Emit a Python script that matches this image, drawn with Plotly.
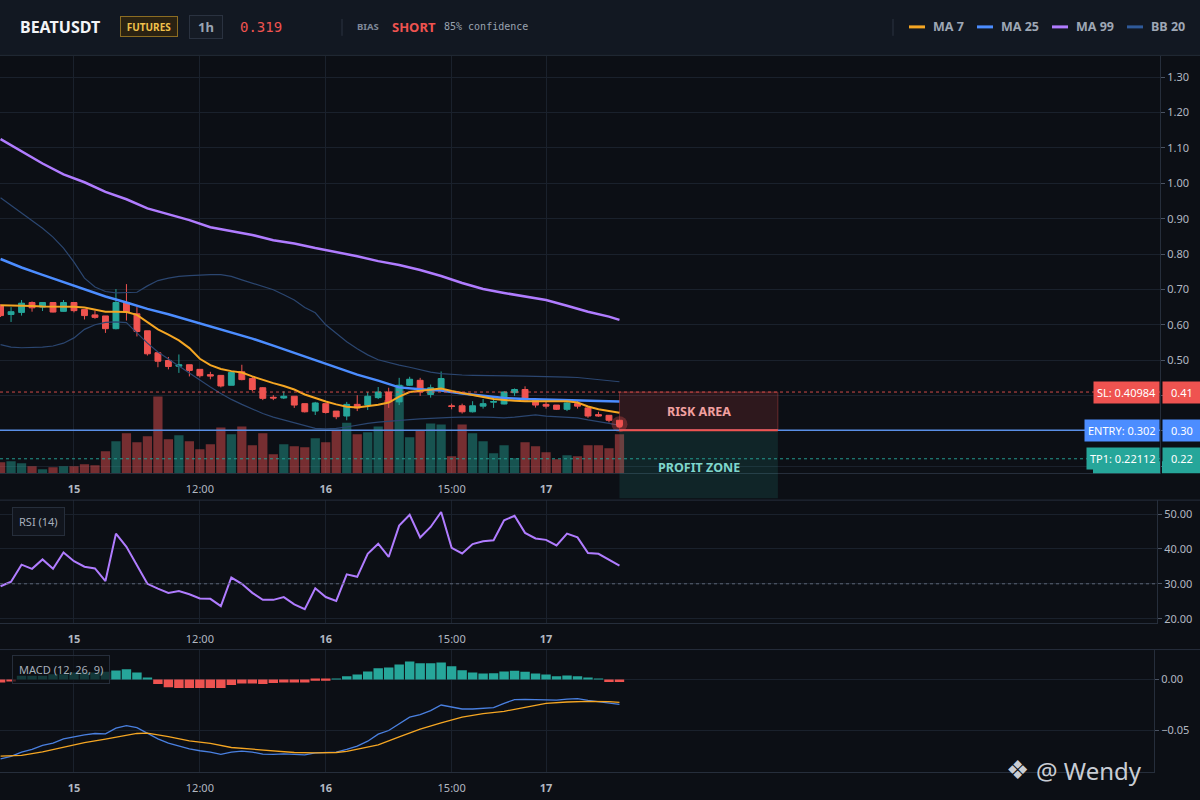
import plotly.graph_objects as go

W, H = 1200, 800

# ---- BEATUSDT 1h candles ----
opens = [0.654, 0.629, 0.635, 0.663, 0.650, 0.663, 0.638, 0.663, 0.643, 0.628,
         0.625, 0.589, 0.663, 0.631, 0.583, 0.521, 0.499, 0.483, 0.487, 0.474,
         0.459, 0.457, 0.429, 0.467, 0.448, 0.422, 0.395, 0.393, 0.398, 0.377,
         0.356, 0.377, 0.356, 0.342, 0.375, 0.373, 0.394, 0.410, 0.382, 0.429,
         0.443, 0.403, 0.420, 0.371, 0.371, 0.354, 0.370, 0.381, 0.376, 0.408,
         0.417, 0.387, 0.375, 0.373, 0.361, 0.377, 0.365, 0.346, 0.344, 0.330]
highs = [0.658, 0.650, 0.670, 0.666, 0.664, 0.664, 0.670, 0.664, 0.643, 0.640,
         0.625, 0.701, 0.715, 0.650, 0.583, 0.521, 0.509, 0.516, 0.487, 0.474,
         0.467, 0.457, 0.468, 0.487, 0.454, 0.424, 0.401, 0.412, 0.398, 0.377,
         0.382, 0.377, 0.356, 0.382, 0.401, 0.410, 0.424, 0.422, 0.450, 0.453,
         0.450, 0.431, 0.468, 0.377, 0.377, 0.384, 0.390, 0.392, 0.412, 0.420,
         0.426, 0.387, 0.384, 0.373, 0.384, 0.384, 0.368, 0.354, 0.344, 0.331]
lows = [0.622, 0.608, 0.626, 0.637, 0.639, 0.635, 0.637, 0.635, 0.615, 0.617,
        0.577, 0.587, 0.612, 0.567, 0.513, 0.480, 0.474, 0.464, 0.454, 0.451,
        0.446, 0.423, 0.429, 0.443, 0.412, 0.387, 0.387, 0.390, 0.365, 0.352,
        0.345, 0.349, 0.333, 0.330, 0.356, 0.359, 0.390, 0.365, 0.373, 0.427,
        0.399, 0.394, 0.415, 0.361, 0.349, 0.352, 0.363, 0.365, 0.375, 0.399,
        0.387, 0.366, 0.363, 0.359, 0.356, 0.363, 0.337, 0.340, 0.324, 0.316]
closes = [0.626, 0.637, 0.661, 0.648, 0.663, 0.636, 0.663, 0.640, 0.626, 0.621,
          0.589, 0.663, 0.636, 0.581, 0.518, 0.497, 0.482, 0.487, 0.471, 0.456,
          0.455, 0.427, 0.465, 0.445, 0.417, 0.392, 0.393, 0.398, 0.373, 0.354,
          0.379, 0.352, 0.340, 0.375, 0.365, 0.398, 0.410, 0.382, 0.429, 0.446,
          0.410, 0.422, 0.448, 0.369, 0.354, 0.371, 0.377, 0.383, 0.410, 0.417,
          0.387, 0.373, 0.370, 0.361, 0.379, 0.370, 0.342, 0.342, 0.330, 0.319]
volumes = [33, 36, 30, 21, 12, 18, 21, 21, 27, 24,
           66, 96, 120, 93, 111, 231, 102, 114, 96, 72,
           87, 138, 117, 141, 84, 120, 57, 87, 81, 78,
           105, 93, 130, 152, 117, 123, 141, 220, 265, 108,
           130, 150, 147, 51, 147, 120, 96, 60, 84, 45,
           93, 81, 63, 42, 54, 51, 84, 84, 75, 117]

ma7 = [0.655, 0.655, 0.654, 0.653, 0.652, 0.652, 0.652, 0.651, 0.649, 0.642,
       0.637, 0.637, 0.636, 0.628, 0.607, 0.587, 0.572, 0.556, 0.534, 0.504,
       0.486, 0.475, 0.469, 0.465, 0.454, 0.444, 0.435, 0.427, 0.417, 0.403,
       0.392, 0.383, 0.375, 0.368, 0.366, 0.369, 0.374, 0.380, 0.397, 0.410,
       0.413, 0.417, 0.420, 0.413, 0.408, 0.403, 0.396, 0.390, 0.387, 0.385,
       0.384, 0.384, 0.384, 0.384, 0.384, 0.380, 0.369, 0.361, 0.356, 0.351]
ma_x = [0, 2, 4, 6, 8, 10, 12, 14, 16, 18, 20, 22, 24, 26, 28, 30,
        32, 34, 36, 38, 40, 42, 44, 46, 48, 50, 52, 54, 56, 58, 59]
ma25 = [0.786, 0.762, 0.741, 0.721, 0.700, 0.680, 0.663, 0.645, 0.630, 0.613,
        0.597, 0.579, 0.561, 0.541, 0.521, 0.499, 0.479, 0.459, 0.442, 0.423,
        0.418, 0.414, 0.406, 0.399, 0.393, 0.390, 0.389, 0.387, 0.386, 0.384, 0.383]
ma99 = [1.125, 1.090, 1.056, 1.025, 1.003, 0.976, 0.955, 0.929, 0.913, 0.896,
        0.876, 0.865, 0.854, 0.839, 0.830, 0.817, 0.806, 0.794, 0.780, 0.769,
        0.755, 0.738, 0.718, 0.701, 0.690, 0.680, 0.670, 0.654, 0.637, 0.623, 0.614]
bb_upper = [0.959, 0.938, 0.915, 0.896, 0.873, 0.848, 0.817, 0.777, 0.732, 0.707,
            0.694, 0.690, 0.690, 0.692, 0.710, 0.725, 0.732, 0.737, 0.739, 0.741,
            0.742, 0.742, 0.737, 0.727, 0.717, 0.708, 0.699, 0.685, 0.670, 0.649,
            0.634, 0.600, 0.575, 0.552, 0.532, 0.515, 0.501, 0.493, 0.486, 0.480,
            0.473, 0.466, 0.462, 0.459, 0.458, 0.457, 0.457, 0.457, 0.456, 0.456,
            0.455, 0.454, 0.454, 0.453, 0.452, 0.451, 0.448, 0.445, 0.442, 0.439]
bb_lower = [0.544, 0.537, 0.535, 0.535, 0.537, 0.540, 0.548, 0.563, 0.587, 0.600,
            0.607, 0.608, 0.606, 0.577, 0.548, 0.523, 0.503, 0.483, 0.463, 0.445,
            0.424, 0.406, 0.389, 0.375, 0.362, 0.349, 0.339, 0.331, 0.323, 0.313,
            0.307, 0.306, 0.307, 0.311, 0.317, 0.321, 0.325, 0.328, 0.330, 0.332,
            0.334, 0.336, 0.337, 0.338, 0.339, 0.340, 0.339, 0.338, 0.337, 0.339,
            0.343, 0.345, 0.342, 0.341, 0.340, 0.337, 0.331, 0.327, 0.321, 0.316]

rsi = [29.3, 30.6, 35.5, 34.3, 37.0, 34.3, 39.0, 36.5, 34.9, 34.4,
       30.8, 44.4, 40.6, 35.2, 30.0, 28.6, 27.4, 27.9, 27.0, 25.8,
       25.7, 23.6, 31.8, 30.0, 27.4, 25.4, 25.4, 26.2, 24.1, 22.7,
       28.7, 26.2, 25.1, 32.7, 32.0, 38.6, 41.5, 37.7, 46.7, 49.8,
       43.3, 46.3, 50.6, 40.3, 38.7, 41.4, 42.2, 42.5, 48.2, 49.5,
       44.6, 43.0, 42.6, 41.0, 44.4, 43.3, 38.8, 38.6, 37.0, 35.2]

macd = [-0.0781, -0.0758, -0.0715, -0.0689, -0.0650, -0.0627, -0.0585, -0.0562, -0.0546, -0.0532,
        -0.0536, -0.0480, -0.0454, -0.0474, -0.0526, -0.0585, -0.0627, -0.0657, -0.0683, -0.0702,
        -0.0715, -0.0738, -0.0715, -0.0706, -0.0715, -0.0735, -0.0738, -0.0732, -0.0738, -0.0742,
        -0.0722, -0.0715, -0.0715, -0.0689, -0.0657, -0.0608, -0.0539, -0.0503, -0.0438, -0.0372,
        -0.0346, -0.0307, -0.0252, -0.0268, -0.0291, -0.0291, -0.0284, -0.0278, -0.0235, -0.0199,
        -0.0196, -0.0196, -0.0196, -0.0203, -0.0193, -0.0189, -0.0206, -0.0219, -0.0232, -0.0245]
signal_x = [0, 2, 4, 6, 8, 10, 12, 13, 14, 16, 18, 20, 22, 24, 26, 28, 30,
            32, 33, 34, 36, 38, 40, 42, 44, 46, 48, 50, 52, 54, 56, 58, 59]
signal = [-0.0755, -0.0748, -0.0712, -0.0666, -0.0621, -0.0588, -0.0552, -0.0532, -0.0529,
          -0.0562, -0.0604, -0.0630, -0.0670, -0.0686, -0.0706, -0.0719, -0.0722,
          -0.0719, -0.0709, -0.0689, -0.0644, -0.0565, -0.0490, -0.0428, -0.0372,
          -0.0336, -0.0314, -0.0274, -0.0235, -0.0222, -0.0216, -0.0219, -0.0225]
macd_hist = [-0.0029, -0.0020, 0.0036, 0.0036, 0.0036, 0.0052, 0.0052, 0.0069, 0.0069, 0.0069,
             0.0075, 0.0088, 0.0101, 0.0069, 0.0013, -0.0046, -0.0078, -0.0085, -0.0085, -0.0085,
             -0.0085, -0.0085, -0.0056, -0.0039, -0.0039, -0.0046, -0.0036, -0.0029, -0.0029, -0.0029,
             -0.0013, -0.0013, 0.0003, 0.0032, 0.0049, 0.0078, 0.0111, 0.0118, 0.0147, 0.0176,
             0.0160, 0.0160, 0.0167, 0.0130, 0.0091, 0.0069, 0.0059, 0.0062, 0.0078, 0.0085,
             0.0075, 0.0059, 0.0049, 0.0032, 0.0039, 0.0032, 0.0013, 0.0007, -0.0026, -0.0026]

tick_pos = [7, 19, 31, 43, 52]
tick_text = ["<b>15</b>", "12:00", "<b>16</b>", "15:00", "<b>17</b>"]

price_ticks = [0.2, 0.3, 0.4, 0.5, 0.6, 0.7, 0.8, 0.9, 1.0, 1.1, 1.2, 1.3]
# the three lowest labels sit under the SL / ENTRY / TP1 tags
price_ticktext = ["", "", "", "0.50", "0.60", "0.70", "0.80", "0.90", "1.00", "1.10", "1.20", "1.30"]

sl_price = 0.40984
entry_price = 0.302
tp1_price = 0.22112
last_price = 0.319

idx = list(range(len(closes)))
last = idx[-1]

# colours
BG = "#0c0f15"
HEADER = "#121822"
GRID = "#1a212c"
BORDER = "#262e3b"
UP = "#26a69a"
DOWN = "#ef5350"
TXT = "#b2b8c2"
FONT = "Noto Sans"


def px(v):
    return v / W


def py(v):
    return 1 - v / H


# pane domains (pixels from top -> paper)
main_dom = [py(475), py(56)]
rsi_dom = [py(625), py(502)]
macd_dom = [py(775), py(652)]
price_range = [0.1803, 1.3606]

# same candle spacing in every pane, the lower panes just end a little earlier
x0 = -0.054
per_px = (110.53 - x0) / 1160


def x_pane(right_px):
    return dict(domain=[0, px(right_px)], range=[x0, x0 + right_px * per_px])


vol_colors = ["rgba(38,166,154,0.45)" if c >= o else "rgba(239,83,80,0.47)"
              for o, c in zip(opens, closes)]
hist_colors = [UP if v >= 0 else DOWN for v in macd_hist]

fig = go.Figure()

# volume sits on the base axis so candles draw above it
fig.add_trace(go.Bar(x=idx, y=volumes, marker_color=vol_colors, marker_line_width=0,
                     width=0.88, xaxis="x", yaxis="y", hoverinfo="skip"))

fig.add_trace(go.Scatter(x=idx, y=bb_upper, mode="lines", line=dict(color="#2b4670", width=1.2),
                         xaxis="x", yaxis="y2", hoverinfo="skip"))
fig.add_trace(go.Scatter(x=idx, y=bb_lower, mode="lines", line=dict(color="#2b4670", width=1.2),
                         xaxis="x", yaxis="y2", hoverinfo="skip"))
fig.add_trace(go.Scatter(x=ma_x, y=ma99, mode="lines", line=dict(color="#b07cff", width=2.5),
                         xaxis="x", yaxis="y2", hoverinfo="skip"))
fig.add_trace(go.Scatter(x=ma_x, y=ma25, mode="lines", line=dict(color="#4c8dff", width=2.5),
                         xaxis="x", yaxis="y2", hoverinfo="skip"))

fig.add_trace(go.Candlestick(
    x=idx, open=opens, high=highs, low=lows, close=closes,
    increasing=dict(line=dict(color=UP, width=1), fillcolor=UP),
    decreasing=dict(line=dict(color=DOWN, width=1), fillcolor=DOWN),
    whiskerwidth=0, xaxis="x", yaxis="y2", hoverinfo="skip"))

fig.add_trace(go.Scatter(x=idx, y=ma7, mode="lines", line=dict(color="#f5a623", width=2),
                         xaxis="x", yaxis="y2", hoverinfo="skip"))

# current price dot with glow
fig.add_trace(go.Scatter(x=[last], y=[last_price], mode="markers",
                         marker=dict(size=16, color="rgba(239,83,80,0.3)"),
                         xaxis="x", yaxis="y2", hoverinfo="skip"))
fig.add_trace(go.Scatter(x=[last], y=[last_price], mode="markers",
                         marker=dict(size=7, color=DOWN),
                         xaxis="x", yaxis="y2", hoverinfo="skip"))

# RSI
fig.add_trace(go.Scatter(x=idx, y=rsi, mode="lines", line=dict(color="#b07cff", width=2),
                         xaxis="x2", yaxis="y3", hoverinfo="skip"))

# MACD
fig.add_trace(go.Bar(x=idx, y=macd_hist, marker_color=hist_colors, marker_line_width=0,
                     width=0.9, xaxis="x3", yaxis="y4", hoverinfo="skip"))
fig.add_trace(go.Scatter(x=idx, y=macd, mode="lines", line=dict(color="#4a80e0", width=1.3),
                         xaxis="x3", yaxis="y4", hoverinfo="skip"))
fig.add_trace(go.Scatter(x=signal_x, y=signal, mode="lines", line=dict(color="#f5a623", width=1.3),
                         xaxis="x3", yaxis="y4", hoverinfo="skip"))

xcommon = dict(tickvals=tick_pos, ticktext=tick_text,
               showgrid=True, gridcolor=GRID, gridwidth=1, zeroline=False,
               showline=True, linecolor=BORDER, linewidth=1,
               ticks="outside", ticklen=6, tickcolor=BG,
               tickfont=dict(family=FONT, size=11, color=TXT), fixedrange=True)
ycommon = dict(side="right", showgrid=True, gridcolor=GRID, gridwidth=1, zeroline=False,
               showline=True, linecolor=BORDER, linewidth=1, tickformat=".2f",
               ticks="outside", ticklen=4, tickcolor="#4a5363",
               tickfont=dict(family=FONT, size=11, color=TXT), fixedrange=True)

fig.update_layout(
    width=W, height=H, autosize=False,
    margin=dict(l=0, r=0, t=0, b=0),
    paper_bgcolor=BG, plot_bgcolor=BG,
    showlegend=False,
    boxgap=0.2,
    xaxis=dict(xcommon, **x_pane(1160), anchor="y", rangeslider=dict(visible=False)),
    xaxis2=dict(xcommon, **x_pane(1157), anchor="y3"),
    xaxis3=dict(xcommon, **x_pane(1154), anchor="y4"),
    yaxis=dict(domain=main_dom, range=[0, 1257], visible=False, fixedrange=True),
    yaxis2=dict(ycommon, overlaying="y", anchor="x", range=price_range,
                tickvals=price_ticks, ticktext=price_ticktext),
    yaxis3=dict(ycommon, domain=rsi_dom, anchor="x2", range=[18.86, 54.0],
                tickvals=[20, 30, 40, 50]),
    yaxis4=dict(ycommon, domain=macd_dom, anchor="x3", range=[-0.0912, 0.0294],
                tickvals=[-0.05, 0]),
)

shapes = []
# header band and pane top borders
shapes.append(dict(type="rect", xref="paper", yref="paper", x0=0, x1=1, y0=py(55), y1=1,
                   fillcolor=HEADER, line_width=0, layer="below"))
for top in [55.5, 502, 652]:
    shapes.append(dict(type="line", xref="paper", yref="paper", x0=0, x1=1, y0=py(top), y1=py(top),
                       line=dict(color=BORDER, width=1)))
# header separators
for sx in [342, 893]:
    shapes.append(dict(type="line", xref="paper", yref="paper", x0=px(sx), x1=px(sx),
                       y0=py(19), y1=py(36), line=dict(color="#2a3240", width=1)))
# legend swatches
for sx, col in [(909, "#f5a623"), (977, "#4c8dff"), (1052, "#b07cff"), (1127, "#2f5a9a")]:
    shapes.append(dict(type="line", xref="paper", yref="paper", x0=px(sx), x1=px(sx + 16),
                       y0=py(27), y1=py(27), line=dict(color=col, width=3)))

# trade levels
shapes.append(dict(type="line", xref="x domain", yref="y2", x0=0, x1=1, y0=sl_price, y1=sl_price,
                   line=dict(color="rgba(239,83,80,0.85)", width=1, dash="dot")))
shapes.append(dict(type="line", xref="x domain", yref="y2", x0=0, x1=1, y0=entry_price, y1=entry_price,
                   line=dict(color="#5a8fe6", width=1.5)))
shapes.append(dict(type="line", xref="x domain", yref="y2", x0=0, x1=1, y0=tp1_price, y1=tp1_price,
                   line=dict(color="rgba(38,166,154,0.9)", width=1, dash="dot")))

# risk / profit zones after the last candle
zone_x0, zone_x1 = last, last + 15.1
shapes.append(dict(type="rect", xref="x", yref="y2", x0=zone_x0, x1=zone_x1,
                   y0=entry_price, y1=sl_price, fillcolor="rgba(239,83,80,0.15)",
                   line=dict(color="rgba(239,83,80,0.35)", width=1), layer="above"))
entry_paper = main_dom[0] + (entry_price - price_range[0]) / (price_range[1] - price_range[0]) * (main_dom[1] - main_dom[0])
shapes.append(dict(type="rect", xref="x", yref="paper", x0=zone_x0, x1=zone_x1,
                   y0=py(500), y1=entry_paper, fillcolor="rgba(38,166,154,0.15)",
                   line_width=0, layer="above"))
shapes.append(dict(type="line", xref="x", yref="y2", x0=zone_x0, x1=zone_x1,
                   y0=entry_price, y1=entry_price, line=dict(color=DOWN, width=2)))

# a second take-profit tag, clipped by the pane bottom
shapes.append(dict(type="rect", xref="paper", yref="paper", x0=px(1093), x1=px(1160),
                   y0=py(475), y1=py(463), fillcolor=UP, line_width=0))
shapes.append(dict(type="rect", xref="paper", yref="paper", x0=px(1162), x1=1,
                   y0=py(475), y1=py(463), fillcolor=UP, line_width=0))

# RSI 30 level
shapes.append(dict(type="line", xref="x2 domain", yref="y3", x0=0, x1=1, y0=30, y1=30,
                   line=dict(color="#5d6676", width=1, dash="dot")))

fig.update_layout(shapes=shapes)

ann = []
hy = py(27)
ann.append(dict(text="<b>BEATUSDT</b>", x=px(18), y=hy, xanchor="left",
                font=dict(family=FONT, size=16, color="#f2f4f7")))
ann.append(dict(text="<b>FUTURES</b>", x=px(149), y=hy, xanchor="center",
                width=50, height=13, borderpad=3,
                font=dict(family=FONT, size=10, color="#f0c14b"),
                bgcolor="#2a2212", bordercolor="#8c6d22", borderwidth=1))
ann.append(dict(text="<b>1h</b>", x=px(206), y=hy, xanchor="center",
                width=26, height=16, borderpad=3,
                font=dict(family=FONT, size=13, color="#9aa4b2"),
                bgcolor="#151b25", bordercolor="#2a3240", borderwidth=1))
ann.append(dict(text="%.3f" % last_price, x=px(238), y=hy, xanchor="left",
                font=dict(family="DejaVu Sans Mono", size=14, color=DOWN)))
ann.append(dict(text="<b>BIAS</b>", x=px(355), y=hy, xanchor="left",
                font=dict(family=FONT, size=9.5, color="#7f8898")))
ann.append(dict(text="<b>SHORT</b>", x=px(390), y=hy, xanchor="left",
                font=dict(family=FONT, size=13, color=DOWN)))
ann.append(dict(text="85% confidence", x=px(442), y=hy, xanchor="left",
                font=dict(family="DejaVu Sans Mono", size=10, color="#9aa3b0")))
for lx, lt in [(931, "MA 7"), (999, "MA 25"), (1074, "MA 99"), (1149, "BB 20")]:
    ann.append(dict(text="<b>%s</b>" % lt, x=px(lx), y=hy, xanchor="left",
                    font=dict(family=FONT, size=12.5, color="#9ea7b5")))

# price level labels on the right
for label, price, col, short in [("SL: %.5f" % sl_price, sl_price, DOWN, "0.41"),
                                 ("ENTRY: %.3f" % entry_price, entry_price, "#4c8dff", "0.30"),
                                 ("TP1: %.5f" % tp1_price, tp1_price, UP, "0.22")]:
    ann.append(dict(text=label, xref="paper", yref="y2", x=px(1160), y=price, xanchor="right",
                    font=dict(family=FONT, size=11, color="#ffffff"),
                    bgcolor=col, borderpad=3))
    ann.append(dict(text=short, xref="paper", yref="y2", x=px(1162), y=price, xanchor="left",
                    width=32, align="center",
                    font=dict(family=FONT, size=11, color="#ffffff"),
                    bgcolor=col, borderpad=3))

# zone captions
ann.append(dict(text="<b>RISK AREA</b>", xref="x", yref="y2", x=(zone_x0 + zone_x1) / 2,
                y=(sl_price + entry_price) / 2,
                font=dict(family=FONT, size=12.5, color="#f2a0a0")))
ann.append(dict(text="<b>PROFIT ZONE</b>", xref="x", yref="paper", x=(zone_x0 + zone_x1) / 2,
                y=py(469), font=dict(family=FONT, size=12.5, color="#7fd6cc")))

# indicator tags
ann.append(dict(text="RSI (14)", x=px(12), y=py(523), xanchor="left",
                font=dict(family=FONT, size=11, color="#a7afbb"),
                bgcolor="#11151d", bordercolor=BORDER, borderwidth=1, borderpad=6))
ann.append(dict(text="MACD (12, 26, 9)", x=px(12), y=py(672), xanchor="left",
                font=dict(family=FONT, size=11, color="#a7afbb"),
                bgcolor="rgba(12,15,21,0.72)", bordercolor=BORDER, borderwidth=1, borderpad=6))

# watermark
ann.append(dict(text="❖", x=px(1017), y=py(773), xanchor="center",
                font=dict(family="DejaVu Sans", size=26, color="#c9cdd4")))
ann.append(dict(text="@ Wendy", x=px(1034), y=py(773), xanchor="left",
                font=dict(family=FONT, size=24, color="#c9cdd4")))

for a in ann:
    a.setdefault("xref", "paper")
    a.setdefault("yref", "paper")
    a.setdefault("showarrow", False)
    a.setdefault("yanchor", "middle")

fig.update_layout(annotations=ann)

fig.write_html("out.html", config={"displayModeBar": False},
               post_script="document.body.style.margin='0';document.body.style.overflow='hidden';")
